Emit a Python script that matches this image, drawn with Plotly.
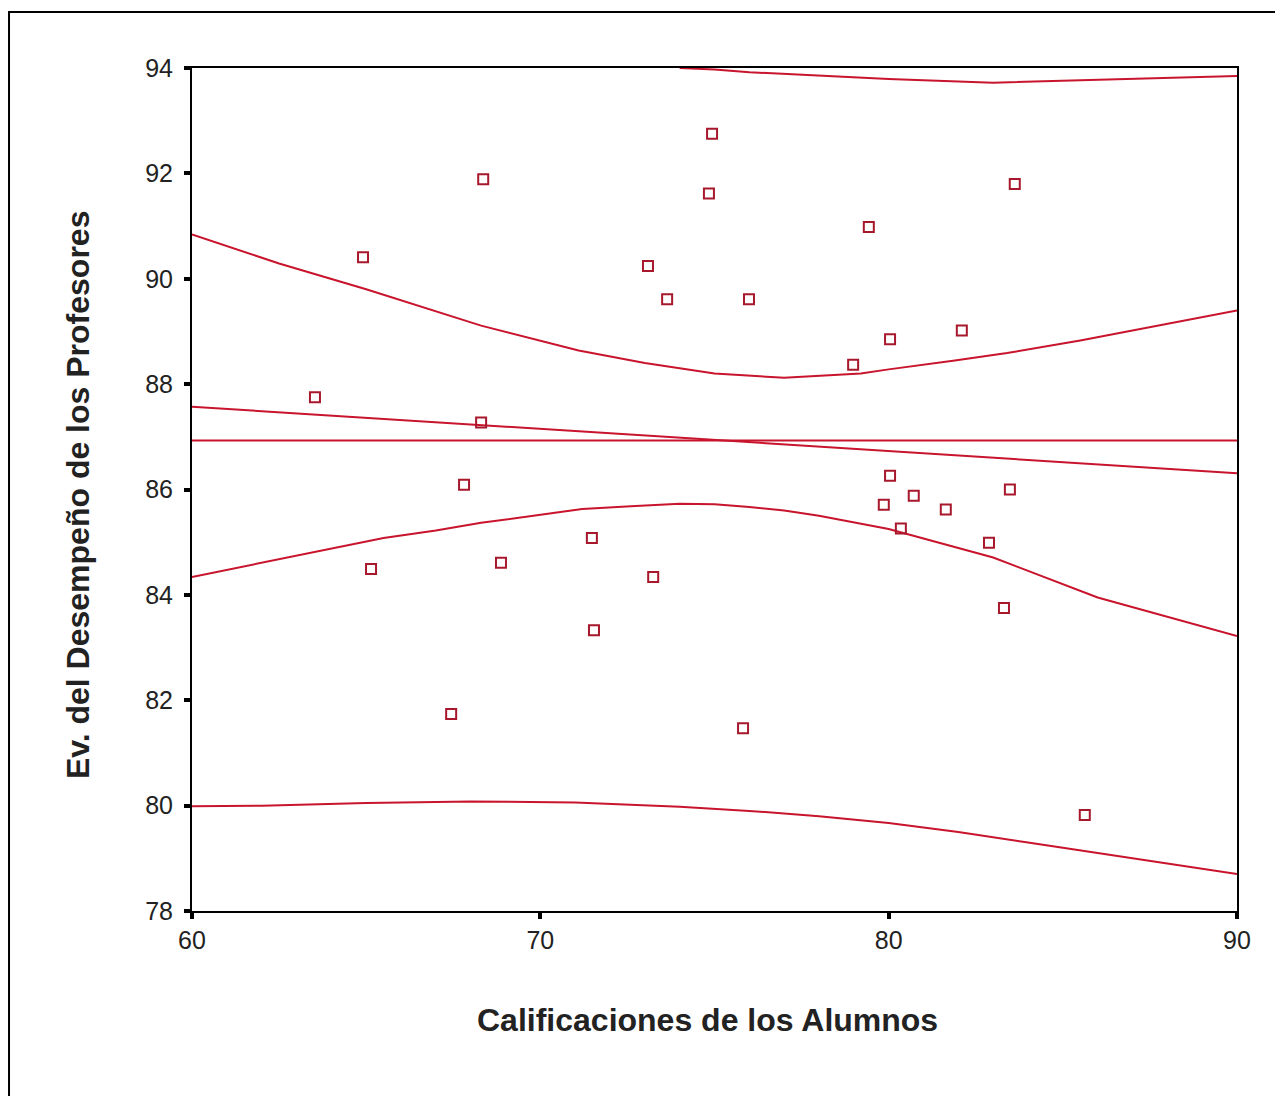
import plotly.graph_objects as go

# Scatter data
alumnos = [63.53, 64.91, 65.14, 67.44, 67.81, 68.30, 68.36, 68.87, 71.48, 71.54,
           73.09, 73.24, 73.64, 74.84, 74.93, 75.82, 75.99, 78.98, 79.43, 79.86,
           80.04, 80.04, 80.35, 80.72, 81.64, 82.10, 82.88, 83.31, 83.48, 83.62, 85.63]
profesores = [87.75, 90.41, 84.49, 81.74, 86.09, 87.27, 91.89, 84.61, 85.08, 83.33,
              90.24, 84.34, 89.61, 91.62, 92.75, 81.47, 89.61, 88.37, 90.98, 85.71,
              86.26, 88.85, 85.26, 85.88, 85.62, 89.02, 84.99, 83.75, 86.00, 91.80, 79.82]

# Fit lines
mean_x = [60, 90]
mean_y = [86.93, 86.93]

reg_x = [60, 90]
reg_y = [87.57, 86.31]

ci_up_x = [60, 62.5, 65, 68.3, 71.1, 73, 75, 77, 79.2, 80, 81.9, 83.4, 85.5, 90]
ci_up_y = [90.84, 90.29, 89.8, 89.11, 88.64, 88.4, 88.2, 88.12, 88.2, 88.28, 88.45, 88.59, 88.83, 89.4]

ci_lo_x = [60, 62.5, 64, 65.5, 67, 68.3, 69.8, 71.2, 72.6, 74, 75, 76, 77, 78, 80, 83, 86, 90]
ci_lo_y = [84.34, 84.68, 84.87, 85.08, 85.22, 85.37, 85.5, 85.63, 85.68, 85.73, 85.72, 85.67, 85.6, 85.5, 85.25, 84.71, 83.95, 83.22]

pi_up_x = [74.0, 75, 76, 78, 80, 83, 86, 90]
pi_up_y = [94.0, 93.97, 93.92, 93.85, 93.79, 93.72, 93.77, 93.85]

pi_lo_x = [60, 62, 65, 68, 71, 74, 76, 78, 80, 82, 84, 86, 88, 90]
pi_lo_y = [79.99, 80.0, 80.05, 80.08, 80.06, 79.98, 79.9, 79.8, 79.67, 79.5, 79.3, 79.1, 78.9, 78.7]

x_ticks = [60, 70, 80, 90]
y_ticks = [78, 80, 82, 84, 86, 88, 90, 92, 94]

LINE_COLOR = "#c8142c"
MARK_COLOR = "#a8182c"

fig = go.Figure()
for xs, ys in [(mean_x, mean_y), (reg_x, reg_y), (ci_up_x, ci_up_y), (ci_lo_x, ci_lo_y),
               (pi_up_x, pi_up_y), (pi_lo_x, pi_lo_y)]:
    fig.add_trace(go.Scatter(x=xs, y=ys, mode="lines",
                             line=dict(color=LINE_COLOR, width=2), hoverinfo="skip"))

fig.add_trace(go.Scatter(x=alumnos, y=profesores, mode="markers",
                         marker=dict(symbol="square-open", size=10,
                                     color=MARK_COLOR, line=dict(width=2, color=MARK_COLOR))))

font_family = "Liberation Sans, Arial, sans-serif"
fig.update_layout(
    width=1275, height=1096,
    margin=dict(l=192, r=38, t=68, b=185),
    paper_bgcolor="white", plot_bgcolor="white",
    showlegend=False,
    font=dict(family=font_family, size=25, color="#111"),
)
fig.update_xaxes(range=[60, 90], tickvals=x_ticks, showgrid=False, zeroline=False,
                 showline=True, linecolor="black", linewidth=2, mirror=True,
                 ticks="outside", ticklen=6, tickwidth=4, tickcolor="black",
                 tickfont=dict(size=25, family=font_family, color="#222"))
fig.update_yaxes(range=[78, 94], tickvals=y_ticks, showgrid=False, zeroline=False,
                 showline=True, linecolor="black", linewidth=2, mirror=True,
                 ticks="outside", ticklen=6, tickwidth=4, tickcolor="black",
                 ticklabelstandoff=6,
                 tickfont=dict(size=25, family=font_family, color="#222"))

fig.add_annotation(text="<b>Calificaciones de los Alumnos</b>", xref="paper", yref="paper",
                   x=0.493, y=-0.129, showarrow=False, xanchor="center", yanchor="middle",
                   font=dict(size=32, family=font_family, color="#222"))
fig.add_annotation(text="<b>Ev. del Desempeño de los Profesores</b>", xref="paper", yref="paper",
                   x=-0.109, y=0.4935, showarrow=False, xanchor="center", yanchor="middle",
                   textangle=-90, font=dict(size=32, family=font_family, color="#222"))

# Outer frame (only left and top edges visible in the original)
fig.add_shape(type="rect", xref="paper", yref="paper",
              x0=-0.1751, x1=1.05, y0=-0.25, y1=1.0664,
              line=dict(color="black", width=2), layer="below")

fig.write_html("out.html")
